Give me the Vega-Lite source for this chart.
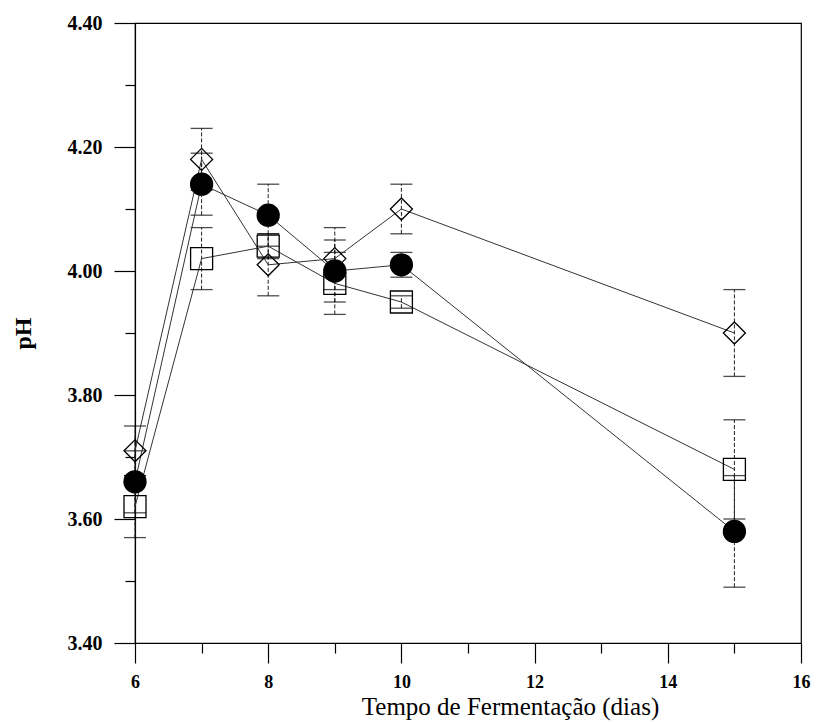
{
  "$schema": "https://vega.github.io/schema/vega-lite/v6.json",
  "width": 666,
  "height": 620,
  "autosize": {"type": "none"},
  "padding": {"left": 135, "top": 23, "right": 15, "bottom": 79},
  "background": "white",
  "config": {
    "view": {"stroke": "#000", "strokeWidth": 1.2},
    "axis": {
      "labelFont": "Liberation Serif",
      "titleFont": "Liberation Serif",
      "domainColor": "#000",
      "domainWidth": 1.2,
      "tickColor": "#000",
      "tickWidth": 1.2,
      "labelColor": "#000",
      "titleColor": "#000",
      "grid": false
    }
  },
  "data": {
    "values": [
      {"serie": "A", "dia": 6, "ph": 3.66, "lo": 3.61, "hi": 3.71},
      {"serie": "A", "dia": 7, "ph": 4.14, "lo": 4.09, "hi": 4.19},
      {"serie": "A", "dia": 8, "ph": 4.09, "lo": 4.04, "hi": 4.14},
      {"serie": "A", "dia": 9, "ph": 4.00, "lo": 3.95, "hi": 4.05},
      {"serie": "A", "dia": 10, "ph": 4.01, "lo": 3.99, "hi": 4.03},
      {"serie": "A", "dia": 15, "ph": 3.58, "lo": 3.49, "hi": 3.67},
      {"serie": "B", "dia": 6, "ph": 3.62, "lo": 3.57, "hi": 3.67},
      {"serie": "B", "dia": 7, "ph": 4.02, "lo": 3.97, "hi": 4.07},
      {"serie": "B", "dia": 8, "ph": 4.04, "lo": 4.02, "hi": 4.06},
      {"serie": "B", "dia": 9, "ph": 3.98, "lo": 3.93, "hi": 4.03},
      {"serie": "B", "dia": 10, "ph": 3.95, "lo": 3.94, "hi": 3.96},
      {"serie": "B", "dia": 15, "ph": 3.68, "lo": 3.60, "hi": 3.76},
      {"serie": "C", "dia": 6, "ph": 3.71, "lo": 3.67, "hi": 3.75},
      {"serie": "C", "dia": 7, "ph": 4.18, "lo": 4.13, "hi": 4.23},
      {"serie": "C", "dia": 8, "ph": 4.01, "lo": 3.96, "hi": 4.06},
      {"serie": "C", "dia": 9, "ph": 4.02, "lo": 3.97, "hi": 4.07},
      {"serie": "C", "dia": 10, "ph": 4.10, "lo": 4.06, "hi": 4.14},
      {"serie": "C", "dia": 15, "ph": 3.90, "lo": 3.83, "hi": 3.97}
    ]
  },
  "layer": [
    {
      "mark": {"type": "rule", "color": "#222", "strokeWidth": 1, "strokeDash": [4, 2]},
      "encoding": {
        "x": {"field": "dia", "type": "quantitative"},
        "y": {"field": "lo", "type": "quantitative", "title": "pH"},
        "y2": {"field": "hi"}
      }
    },
    {
      "mark": {"type": "tick", "orient": "horizontal", "size": 22, "thickness": 1.3, "color": "#000"},
      "encoding": {
        "x": {"field": "dia", "type": "quantitative"},
        "y": {"field": "lo", "type": "quantitative", "title": "pH"}
      }
    },
    {
      "mark": {"type": "tick", "orient": "horizontal", "size": 22, "thickness": 1.3, "color": "#000"},
      "encoding": {
        "x": {"field": "dia", "type": "quantitative"},
        "y": {"field": "hi", "type": "quantitative", "title": "pH"}
      }
    },
    {
      "mark": {"type": "line", "color": "#333", "strokeWidth": 1},
      "encoding": {
        "x": {"field": "dia", "type": "quantitative"},
        "y": {"field": "ph", "type": "quantitative", "title": "pH"},
        "detail": {"field": "serie", "type": "nominal"}
      }
    },
    {
      "mark": {"type": "point", "size": 484, "filled": true, "stroke": "#000", "strokeWidth": 1.3, "opacity": 1},
      "encoding": {
        "x": {
          "field": "dia",
          "type": "quantitative",
          "scale": {"domain": [6, 16], "nice": false, "zero": false},
          "axis": {
            "title": "Tempo de Fermentação (dias)",
            "titleFontSize": 25,
            "titleFontWeight": "normal",
            "titleX": 375,
            "titleY": 71,
            "titleBaseline": "alphabetic",
            "values": [6, 7, 8, 9, 10, 11, 12, 13, 14, 15, 16],
            "labelExpr": "datum.value % 2 == 0 ? format(datum.value, 'd') : ''",
            "tickSize": {"condition": {"test": "datum.value % 2 == 0", "value": 20}, "value": 10},
            "labelFontSize": 18,
            "labelFontWeight": "bold",
            "labelPadding": 10,
            "labelFlush": false
          }
        },
        "y": {
          "field": "ph",
          "type": "quantitative",
          "scale": {"domain": [3.4, 4.4], "nice": false, "zero": false},
          "axis": {
            "title": "pH",
            "titleFontSize": 24,
            "titleFontWeight": "bold",
            "titlePadding": 32,
            "values": [3.4, 3.5, 3.6, 3.7, 3.8, 3.9, 4.0, 4.1, 4.2, 4.3, 4.4],
            "labelExpr": "round(datum.value * 10) % 2 == 0 ? format(datum.value, '.2f') : ''",
            "tickSize": {"condition": {"test": "round(datum.value * 10) % 2 == 0", "value": 21}, "value": 10},
            "labelFontSize": 20,
            "labelFontWeight": "bold",
            "labelPadding": 12,
            "labelFlush": false
          }
        },
        "shape": {"field": "serie", "type": "nominal", "scale": {"domain": ["A", "B", "C"], "range": ["circle", "square", "diamond"]}, "legend": null},
        "fill": {"field": "serie", "type": "nominal", "scale": {"domain": ["A", "B", "C"], "range": ["#000", "transparent", "transparent"]}, "legend": null}
      }
    }
  ]
}
